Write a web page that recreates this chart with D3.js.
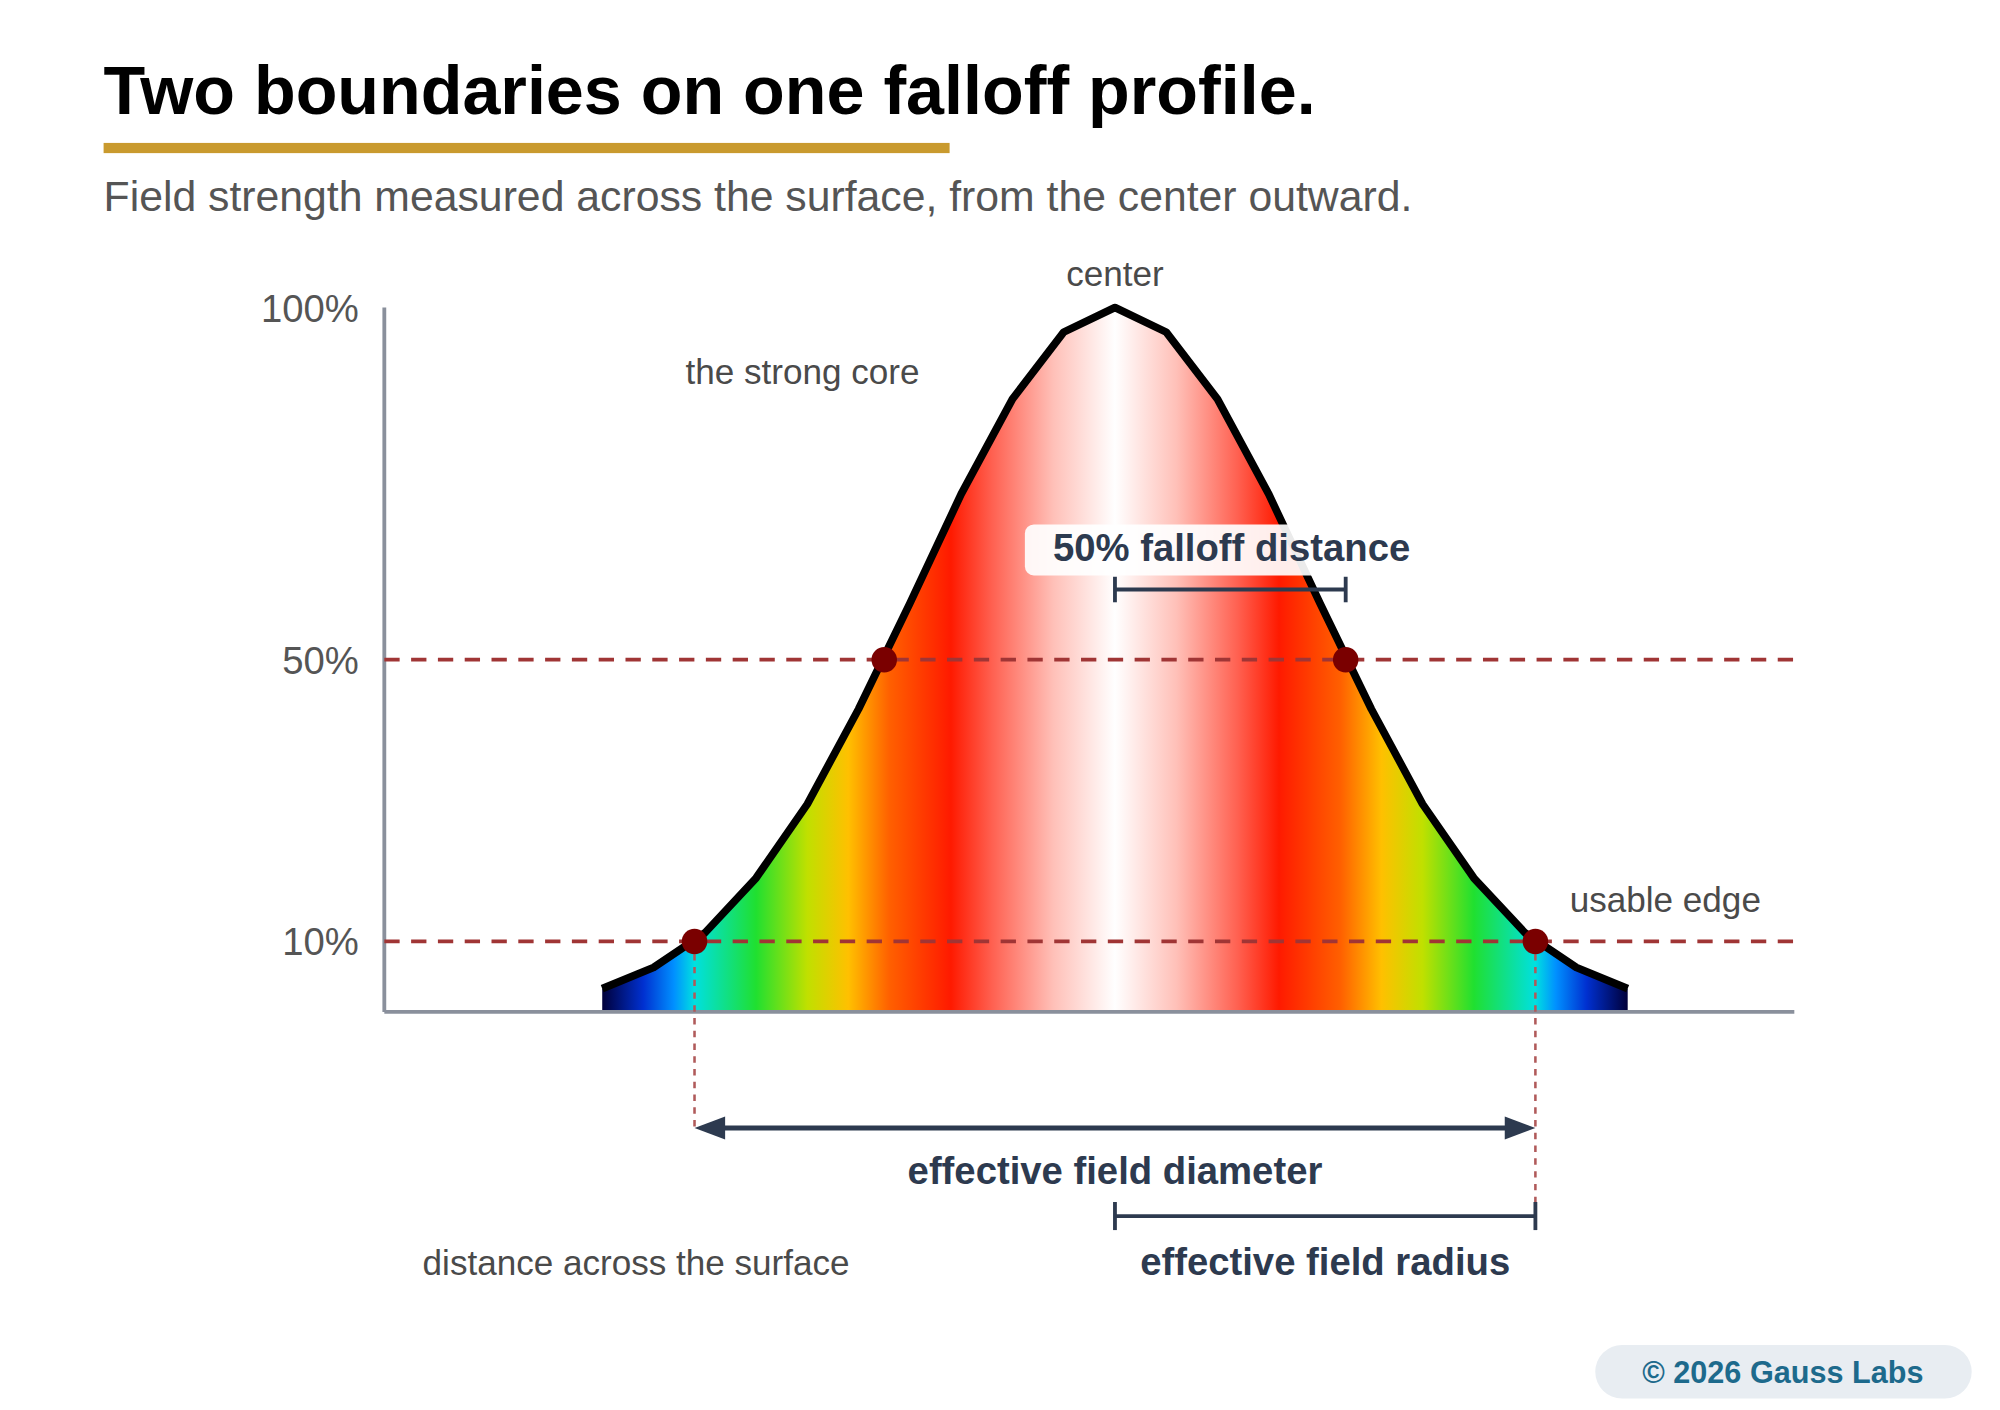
<!DOCTYPE html>
<html><head><meta charset="utf-8">
<script src="https://cdn.jsdelivr.net/npm/d3@7"></script>
<style>body{margin:0;background:#fff}svg{display:block;font-family:"Liberation Sans",Arial,sans-serif}</style>
</head><body><div id="chart"></div>
<script>
// profile samples: distance from center (units) and strength (%)
var distances = [-10,-9,-8,-7,-6,-5,-4,-3,-2,-1,0,1,2,3,4,5,6,7,8,9,10];
var strength  = [3.3,6.3,11.2,19,29.5,43,58,73.5,87,96.5,100,96.5,87,73.5,58,43,29.5,19,11.2,6.3,3.3];
var yTicks = [100, 50, 10];
var halfPoints = [-4.5, 4.5];   // 50% crossings
var edgePoints = [-8.2, 8.2];   // 10% crossings

var svg = d3.select("#chart").append("svg")
  .attr("width", 2000).attr("height", 1410)
  .attr("viewBox", "0 0 1567 1105");

var x = d3.scaleLinear().domain([-14.25, 13.25]).range([301, 1406]);
var y = d3.scaleLinear().domain([0, 100]).range([793, 241]);

// title block
svg.append("text").attr("x", 81).attr("y", 89).attr("font-size", 53.5).attr("font-weight", "bold")
  .attr("fill", "#000").text("Two boundaries on one falloff profile.");
svg.append("rect").attr("x", 81).attr("y", 112).attr("width", 663).attr("height", 8).attr("fill", "#c99a2e");
svg.append("text").attr("x", 81).attr("y", 165).attr("font-size", 33.5).attr("fill", "#555")
  .text("Field strength measured across the surface, from the center outward.");

// colour gradient across the profile
var grad = svg.append("defs").append("linearGradient").attr("id", "jet")
  .attr("gradientUnits", "userSpaceOnUse")
  .attr("x1", x(-10)).attr("x2", x(10)).attr("y1", 0).attr("y2", 0);
var stops = [[0,"#00003a"],[0.04,"#0030d0"],[0.07,"#0090ff"],[0.09,"#00e0e0"],[0.15,"#20e030"],
  [0.2,"#c0e000"],[0.24,"#ffc000"],[0.28,"#ff6000"],[0.34,"#ff1a00"],[0.38,"#ff6050"],
  [0.44,"#ffc0b8"],[0.5,"#ffffff"]];
stops.concat(stops.slice(0, -1).reverse().map(function(s){ return [1 - s[0], s[1]]; }))
  .forEach(function(s){ grad.append("stop").attr("offset", s[0]).attr("stop-color", s[1]); });

var pts = distances.map(function(d, i){ return [d, strength[i]]; });
svg.append("path").datum(pts)
  .attr("d", d3.area().x(function(d){ return x(d[0]); }).y0(y(0)).y1(function(d){ return y(d[1]); }))
  .attr("fill", "url(#jet)");
svg.append("path").datum(pts)
  .attr("d", d3.line().x(function(d){ return x(d[0]); }).y(function(d){ return y(d[1]); }))
  .attr("fill", "none").attr("stroke", "#000").attr("stroke-width", 6).attr("stroke-linejoin", "round");

// axes
svg.append("line").attr("x1", x.range()[0]).attr("x2", x.range()[0]).attr("y1", y(100)).attr("y2", y(0))
  .attr("stroke", "#8a909c").attr("stroke-width", 3);
svg.append("line").attr("x1", x.range()[0]).attr("x2", x.range()[1]).attr("y1", y(0)).attr("y2", y(0))
  .attr("stroke", "#8a909c").attr("stroke-width", 3);
svg.selectAll(".yt").data(yTicks).enter().append("text")
  .attr("x", 281).attr("y", function(d){ return y(d) + 11; }).attr("text-anchor", "end")
  .attr("font-size", 30).attr("fill", "#555").text(function(d){ return d + "%"; });

// threshold lines
[50, 10].forEach(function(v){
  svg.append("line").attr("x1", x.range()[0]).attr("x2", x.range()[1]).attr("y1", y(v)).attr("y2", y(v))
    .attr("stroke", "#a03535").attr("stroke-width", 3).attr("stroke-dasharray", "12,9");
});
// drop lines from edge markers
svg.append("line").attr("x1", x(edgePoints[0])).attr("x2", x(edgePoints[0])).attr("y1", y(10)).attr("y2", 886)
  .attr("stroke", "#b05a5a").attr("stroke-width", 2).attr("stroke-dasharray", "5,5");
svg.append("line").attr("x1", x(edgePoints[1])).attr("x2", x(edgePoints[1])).attr("y1", y(10)).attr("y2", 965)
  .attr("stroke", "#b05a5a").attr("stroke-width", 2).attr("stroke-dasharray", "5,5");

svg.selectAll(".m").data(halfPoints.map(function(d){ return [d, 50]; })
    .concat(edgePoints.map(function(d){ return [d, 10]; })))
  .enter().append("circle").attr("cx", function(d){ return x(d[0]); }).attr("cy", function(d){ return y(d[1]); })
  .attr("r", 10).attr("fill", "#7a0000");

// annotations
var ink = "#2d3a4f";
function label(t, xx, yy, opts) {
  opts = opts || {};
  return svg.append("text").attr("x", xx).attr("y", yy).attr("font-size", opts.size || 27.5)
    .attr("font-weight", opts.bold ? "bold" : "normal").attr("fill", opts.fill || "#4a4a4a")
    .attr("text-anchor", opts.anchor || "start").text(t);
}
label("center", x(0), 224, {anchor: "middle"});
label("the strong core", 537, 301);
label("usable edge", 1230, 715);
label("distance across the surface", 331, 999);

svg.append("rect").attr("x", 803).attr("y", 411).attr("width", 300).attr("height", 40).attr("rx", 7)
  .attr("fill", "#fff").attr("opacity", 0.92);
label("50% falloff distance", 965, 440, {anchor: "middle", bold: true, size: 30, fill: ink});

function bracket(x1, x2, yy, h) {
  svg.append("line").attr("x1", x1).attr("x2", x2).attr("y1", yy).attr("y2", yy).attr("stroke", ink).attr("stroke-width", 3);
  [x1, x2].forEach(function(xx){
    svg.append("line").attr("x1", xx).attr("x2", xx).attr("y1", yy - h).attr("y2", yy + h).attr("stroke", ink).attr("stroke-width", 3);
  });
}
bracket(x(0), x(halfPoints[1]), 462, 10);
bracket(x(0), x(edgePoints[1]), 953, 11);

// diameter arrow
var ay = 884, ax1 = x(edgePoints[0]), ax2 = x(edgePoints[1]);
svg.append("line").attr("x1", ax1 + 10).attr("x2", ax2 - 10).attr("y1", ay).attr("y2", ay).attr("stroke", ink).attr("stroke-width", 4);
svg.append("path").attr("d", "M" + ax1 + "," + ay + "l24,-9v18z").attr("fill", ink);
svg.append("path").attr("d", "M" + ax2 + "," + ay + "l-24,-9v18z").attr("fill", ink);
label("effective field diameter", x(0), 928, {anchor: "middle", bold: true, size: 30, fill: ink});
label("effective field radius", (x(0) + ax2) / 2, 999, {anchor: "middle", bold: true, size: 30, fill: ink});

// credit pill
svg.append("rect").attr("x", 1250).attr("y", 1054).attr("width", 295).attr("height", 42).attr("rx", 21).attr("fill", "#e8edf2");
label("\u00a9 2026 Gauss Labs", 1397, 1084, {anchor: "middle", bold: true, size: 24, fill: "#1d6a8c"});
</script></body></html>
